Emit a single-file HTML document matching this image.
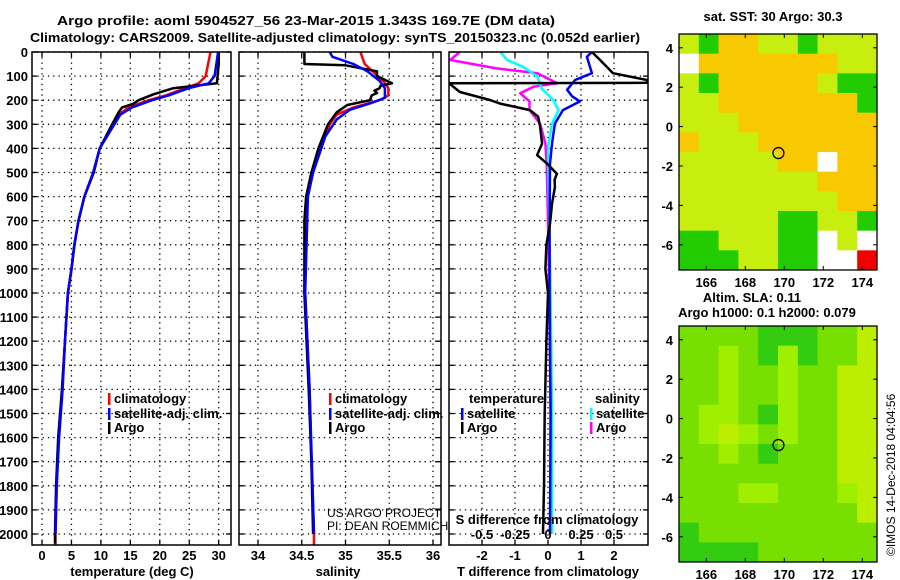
<!DOCTYPE html>
<html><head><meta charset="utf-8"><style>
html,body{margin:0;padding:0;background:#fff;}
svg{display:block;font-family:"Liberation Sans",sans-serif;}
.b{font-weight:bold;font-size:13px;}
</style></head><body>
<svg id="c" width="900" height="580" viewBox="0 0 900 580" xmlns="http://www.w3.org/2000/svg">
<text class="b" x="57" y="25" font-size="15" textLength="498" lengthAdjust="spacingAndGlyphs">Argo profile: aoml 5904527_56 23-Mar-2015 1.343S 169.7E (DM data)</text>
<text class="b" x="30" y="42" font-size="15" textLength="610" lengthAdjust="spacingAndGlyphs">Climatology: CARS2009. Satellite-adjusted climatology: synTS_20150323.nc (0.052d earlier)</text>
<g id="g"></g>
</svg>
<script>
// ---- data ----
const depthTicks=[0,100,200,300,400,500,600,700,800,900,1000,1100,1200,1300,1400,1500,1600,1700,1800,1900,2000];
const tempTicks=[0,5,10,15,20,25,30];
const salTicks=[34,34.5,35,35.5,36];
const tdTicks=[-2,-1,0,1,2];
const sdTicks=[-0.5,-0.25,0,0.25,0.5];
const tArgoD=[0,50,130,140,150,175,200,215,230,250,300,400,500,600,700,800,900,1000,1200,1400,1600,1800,2000,2040];
const tArgoV=[30.0,30.0,29.7,26,22.3,19,16.4,15.5,13.6,13,11.9,9.8,8.8,7.2,6.2,5.5,5.0,4.4,3.9,3.4,2.75,2.4,2.2,2.2];
const tClimD=[0,50,100,130,150,180,200,230,260,300,400,500,600,700,800,900,1000,1200,1400,1600,1800,2000,2045];
const tClimV=[28.6,28.2,27.8,26.6,24.3,21,18.1,14.7,13,12.2,9.8,8.7,7.2,6.2,5.5,5.0,4.4,3.9,3.4,2.8,2.5,2.3,2.3];
const tSatD=[0,100,130,150,180,200,230,260,300,400,500,600,700,800,900,1000,1200,1400,1600,1800,2000];
const tSatV=[29.9,29.3,28.3,24.9,21.5,18.7,15.3,13.3,12.3,9.8,8.7,7.2,6.2,5.5,5.0,4.4,3.9,3.5,2.9,2.5,2.3];
const sArgoD=[0,50,55,80,100,130,140,150,160,170,180,200,220,250,300,400,500,600,700,1000,1400,1700,2000];
const sArgoV=[34.53,34.53,35.0,35.36,35.36,35.53,35.4,35.39,35.33,35.36,35.3,35.28,35.02,34.9,34.8,34.69,34.61,34.55,34.53,34.53,34.58,34.61,34.63];
const sClimD=[0,50,80,120,150,180,200,230,260,300,400,500,600,700,1000,1400,1700,2000,2045];
const sClimV=[35.17,35.22,35.31,35.43,35.49,35.49,35.39,35.09,34.9,34.82,34.71,34.62,34.56,34.54,34.54,34.59,34.61,34.64,34.64];
const sSatD=[0,20,50,80,120,150,190,210,240,280,350,500,600,1000,1400,2000];
const sSatV=[34.82,34.85,35.09,35.25,35.39,35.45,35.45,35.31,35.05,34.9,34.77,34.63,34.57,34.54,34.59,34.64];
const dTArgoD=[0,33,88,116,128,130,166,199,214,241,268,310,380,428,463,505,530,560,630,713,800,900,1000,1200,1500,1800,2000];
const dTArgoV=[1.33,1.58,1.97,3.0,3.0,-3.0,-2.67,-1.76,-1.45,-0.55,-0.3,-0.24,-0.18,-0.33,-0.03,0.27,0.2,0.21,0.12,0.06,-0.05,-0.08,0.0,-0.05,-0.1,-0.12,-0.15];
const dTSatD=[0,20,88,116,157,184,205,241,297,380,463,700,1000,1500,2000];
const dTSatV=[1.33,1.18,1.33,0.82,0.58,0.73,0.97,0.45,0.21,0.12,0.06,0.05,0.05,0.08,0.06];
const dSArgoD=[0,33,68,88,130,144,171,205,241,297,380,463,700,1000,1500,2000];
const dSArgoV=[-0.67,-0.74,-0.39,-0.08,0.07,-0.11,-0.21,-0.14,-0.14,-0.06,-0.02,-0.01,0.0,0.01,0.02,0.02];
const dSSatD=[0,33,61,102,150,199,241,297,394,700,1000,1500,2000];
const dSSatV=[-0.36,-0.31,-0.19,-0.08,-0.05,0.04,0.08,0.03,0.0,0.01,0.02,0.03,0.03];
const sstRows=["YGOOYYGYYY","WOOOOOOOYY","YGOOOOOYGG","YYOOOOOOOG","YYYOOOOOOO","OYYYOOOOOO","YYYYYOOWOO","YYYYYYYOOO","YYYYYYYYOO","YYYYYGGYYG","GGYYYGGWYW","GGGYYGGWWR"];
const slaRows=["MMMMDDDMMY","MMLMDLDMMY","MMLMMLMMYY","MMLMMLMMYY","MLLMDLMMYY","MLYLMLMMYY","MMLMDMMMYY","MMMMMMMMYY","MMMLLMMMLY","MMMMMMMMMY","DMMMMMMMMM","DDDDMMMMMM"];
const latTicks=[4,2,0,-2,-4,-6];
const lonTicks=[166,168,170,172,174];
const argoPos=[169.7,-1.343];

// ---- helpers ----
const NS="http://www.w3.org/2000/svg";
const G=document.getElementById('g');
function mk(tag,at,parent){const e=document.createElementNS(NS,tag);for(const k in at)e.setAttribute(k,at[k]);(parent||G).appendChild(e);return e;}
const Y0=52,Y1=545;
const yD=d=>Y0+d*0.241;
const xT=v=>42+v*5.89;
const xS=v=>258+(v-34)*87.5;
const xTD=v=>548+v*33;
const xSD=v=>548+v*132;
const panels=[{x0:32,x1:231,ticks:tempTicks,f:xT,n:'temperature'},{x0:239,x1:441,ticks:salTicks,f:xS,n:'salinity'},{x0:449,x1:648,ticks:tdTicks,f:xTD,n:'t-difference'}];

panels.forEach((p,i)=>{
  const r=mk('rect',{x:p.x0,y:Y0,width:p.x1-p.x0,height:Y1-Y0,fill:'#fff',stroke:'none'});
  
  
  depthTicks.forEach(d=>{
    const l=mk('line',{x1:p.x0,x2:p.x1,y1:yD(d),y2:yD(d),stroke:'#000','stroke-width':1.3,'stroke-dasharray':'1.3,4'});
    
    
    mk('line',{x1:p.x0,x2:p.x0+5,y1:yD(d),y2:yD(d),stroke:'#000','stroke-width':1.3});
    mk('line',{x1:p.x1-5,x2:p.x1,y1:yD(d),y2:yD(d),stroke:'#000','stroke-width':1.3});
  });
  p.ticks.forEach(v=>{
    const l=mk('line',{x1:p.f(v),x2:p.f(v),y1:Y0,y2:Y1,stroke:'#000','stroke-width':1.3,'stroke-dasharray':'1.3,4'});
    
    
    mk('line',{x1:p.f(v),x2:p.f(v),y1:Y1-5,y2:Y1,stroke:'#000','stroke-width':1.3});
    mk('line',{x1:p.f(v),x2:p.f(v),y1:Y0,y2:Y0+5,stroke:'#000','stroke-width':1.3});
    const t=mk('text',{x:p.f(v),y:560,'text-anchor':'middle','class':'b'});
    t.textContent=String(v);
    
    
  });
});
depthTicks.forEach(d=>{
  const t=mk('text',{x:28,y:yD(d)+5,'text-anchor':'end','class':'b'});
  t.textContent=String(d);
  
  
});

const ua=mk('text',{x:327,y:517,'font-size':12,fill:'#000'});ua.textContent='US ARGO PROJECT';


const pi=mk('text',{x:327,y:530,'font-size':12,fill:'#000'});pi.textContent='PI: DEAN ROEMMICH';



const defs=mk('defs',{});
panels.forEach((p,i)=>{const c=mk('clipPath',{id:'cp'+i},defs);mk('rect',{x:p.x0,y:Y0,width:p.x1-p.x0,height:Y1-Y0},c);});

function line(D,V,f,col,w,ci,name){
  const pts=D.map((d,i)=>f(V[i]).toFixed(1)+','+yD(d).toFixed(1)).join(' ');
  const e=mk('polyline',{points:pts,fill:'none',stroke:col,'stroke-width':w,'clip-path':'url(#cp'+ci+')','stroke-linejoin':'round'});
  
  
}
line(tClimD,tClimV,xT,'#f00',2.5,0,'temp-climatology-line');
line(tArgoD,tArgoV,xT,'#000',2.5,0,'temp-argo-line');
line(tSatD,tSatV,xT,'#00f',2.5,0,'temp-satellite-line');
line(sClimD,sClimV,xS,'#f00',2.5,1,'sal-climatology-line');
line(sArgoD,sArgoV,xS,'#000',2.5,1,'sal-argo-line');
line(sSatD,sSatV,xS,'#00f',2.5,1,'sal-satellite-line');
line(dSArgoD,dSArgoV,xSD,'#f0f',2.5,2,'sdiff-argo-line');
line(dSSatD,dSSatV,xSD,'#0ff',2.5,2,'sdiff-satellite-line');
line(dTSatD,dTSatV,xTD,'#00f',2.5,2,'tdiff-satellite-line');
line(dTArgoD,dTArgoV,xTD,'#000',2.5,2,'tdiff-argo-line');

panels.forEach(p=>{
  const f=mk('rect',{x:p.x0,y:Y0,width:p.x1-p.x0,height:Y1-Y0,fill:'none',stroke:'#000','stroke-width':1.5});
  
  
});

function legend(x,y,col,txt,name){
  mk('rect',{x:x,y:y-10,width:2.5,height:12,fill:col});
  const t=mk('text',{x:x+6,y:y,'class':'b'});t.textContent=txt;
  
  
}
legend(108,403,'#f00','climatology','legend-climatology');
legend(108,418,'#00f','satellite-adj. clim.','legend-satellite-adj');
legend(108,432,'#000','Argo','legend-argo');
legend(329,403,'#f00','climatology','legend2-climatology');
legend(329,418,'#00f','satellite-adj. clim.','legend2-satellite-adj');
legend(329,432,'#000','Argo','legend2-argo');
function txt(x,y,s,name,anchor){const t=mk('text',{x:x,y:y,'class':'b','text-anchor':anchor||'start'});t.textContent=s;
  
  return t;}
txt(469,403,'temperature','legend3-temperature-heading');
legend(461,418,'#00f','satellite','legend3-t-satellite');
legend(461,432,'#000','Argo','legend3-t-argo');
txt(595,403,'salinity','legend3-salinity-heading');
legend(590,418,'#0ff','satellite','legend3-s-satellite');
legend(590,432,'#f0f','Argo','legend3-s-argo');
txt(547,524,'S difference from climatology','s-diff-axis-title','middle');
sdTicks.forEach(v=>{const t=txt(xSD(v),539,String(v),'s-diff-tick-label','middle');});
txt(132,576,'temperature (deg C)','x-axis-title-temperature','middle');
txt(338,576,'salinity','x-axis-title-salinity','middle');
txt(548,576,'T difference from climatology','x-axis-title-tdiff','middle');

// ---- maps ----
const sstCol={O:'#f8c800',Y:'#c8ee10',G:'#22cc00',W:'#ffffff',R:'#f00000'};
const slaCol={M:'#77e000',L:'#a0ee00',Y:'#bbee00',D:'#33cc10'};
function map(top,rows,cols,name){
  const X0=679,X1=877,H=236,W=X1-X0;
  const cw=W/rows[0].length,chh=H/rows.length;
  const g=mk('g',{});
  
  
  rows.forEach((r,ri)=>{for(let ci=0;ci<r.length;ci++){
    const c=mk('rect',{x:X0+ci*cw,y:top+ri*chh,width:cw+0.5,height:chh+0.5,fill:cols[r[ci]]},g);
    
    
  }});
  const lat=v=>top+(4.7-v)*19.7, lon=v=>X0+(v-164.6)*19.5;
  latTicks.forEach(v=>{
    mk('line',{x1:X0,x2:X0+4,y1:lat(v),y2:lat(v),stroke:'#000'});
    mk('line',{x1:X1-4,x2:X1,y1:lat(v),y2:lat(v),stroke:'#000'});
    txt(673,lat(v)+5,String(v),'lat-tick-label','end');
  });
  lonTicks.forEach(v=>{
    mk('line',{x1:lon(v),x2:lon(v),y1:top+H-4,y2:top+H,stroke:'#000'});
    mk('line',{x1:lon(v),x2:lon(v),y1:top,y2:top+4,stroke:'#000'});
    txt(lon(v),top+H+17,String(v),'lon-tick-label','middle');
  });
  const m=mk('circle',{cx:lon(argoPos[0]),cy:lat(argoPos[1]),r:5.5,fill:'none',stroke:'#000','stroke-width':1.3});
  
  
  const f=mk('rect',{x:X0,y:top,width:W,height:H,fill:'none',stroke:'#000','stroke-width':1.3});
  
  
}
map(34,sstRows,sstCol,'sst-map');
map(326,slaRows,slaCol,'sla-map');
txt(773,21,'sat. SST: 30 Argo: 30.3','sst-map-title','middle');
txt(752,302,'Altim. SLA: 0.11','sla-map-title','middle');
txt(767,317,'Argo h1000: 0.1 h2000: 0.079','argo-height-title','middle');
const im=mk('text',{x:0,y:0,'font-size':12,transform:'translate(895,556) rotate(-90)'});
im.textContent='\u00A9IMOS 14-Dec-2018 04:04:56';


</script>
</body></html>
